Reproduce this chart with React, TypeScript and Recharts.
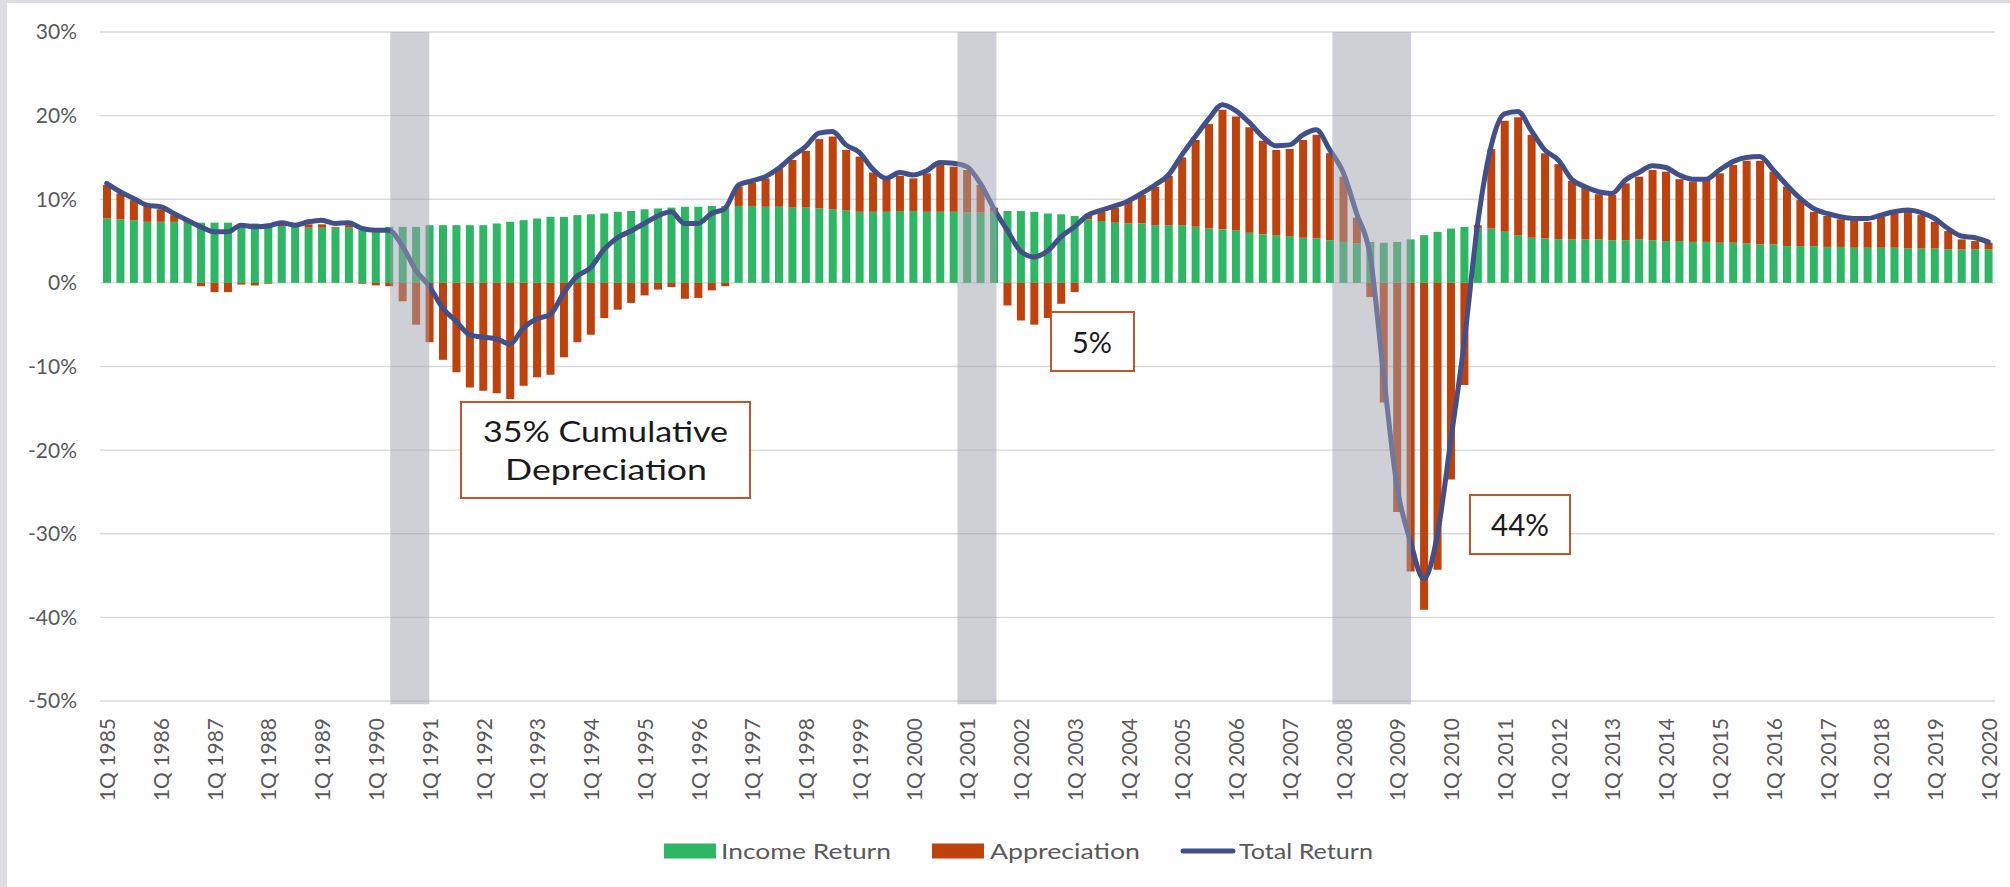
import React from "react";
import {
  ComposedChart,
  Bar,
  Line,
  XAxis,
  YAxis,
  CartesianGrid,
  ReferenceArea,
} from "recharts";

// quarterly returns, 1Q 1985 .. 1Q 2020 (141 quarters)
const yearTicks = [
  "1Q 1985", "1Q 1986", "1Q 1987", "1Q 1988", "1Q 1989", "1Q 1990",
  "1Q 1991", "1Q 1992", "1Q 1993", "1Q 1994", "1Q 1995", "1Q 1996",
  "1Q 1997", "1Q 1998", "1Q 1999", "1Q 2000", "1Q 2001", "1Q 2002",
  "1Q 2003", "1Q 2004", "1Q 2005", "1Q 2006", "1Q 2007", "1Q 2008",
  "1Q 2009", "1Q 2010", "1Q 2011", "1Q 2012", "1Q 2013", "1Q 2014",
  "1Q 2015", "1Q 2016", "1Q 2017", "1Q 2018", "1Q 2019", "1Q 2020",
];

const incomeReturn = [
  7.7, 7.6, 7.5, 7.3, 7.3, 7.3, 7.2, 7.2, 7.2, 7.2,
  7.1, 7.1, 7.1, 6.8, 6.7, 6.6, 6.6, 6.6, 6.6, 6.3,
  6.2, 6.7, 6.7, 6.7, 6.9, 6.9, 6.9, 6.9, 6.9, 7.1,
  7.3, 7.5, 7.7, 7.9, 7.9, 8.1, 8.2, 8.3, 8.5, 8.6,
  8.8, 8.9, 9.0, 9.1, 9.1, 9.2, 9.2, 9.2, 9.2, 9.1,
  9.1, 9.0, 9.0, 8.9, 8.8, 8.7, 8.5, 8.5, 8.5, 8.6,
  8.6, 8.5, 8.5, 8.5, 8.4, 8.4, 8.5, 8.6, 8.6, 8.5,
  8.3, 8.2, 8.0, 7.6, 7.4, 7.2, 7.1, 7.1, 6.9, 6.9,
  6.9, 6.7, 6.5, 6.4, 6.3, 6.0, 5.8, 5.7, 5.6, 5.4,
  5.3, 5.1, 4.9, 4.7, 4.9, 4.8, 4.9, 5.2, 5.7, 6.1,
  6.5, 6.7, 6.5, 6.5, 6.1, 5.7, 5.4, 5.3, 5.2, 5.2,
  5.2, 5.2, 5.1, 5.1, 5.2, 5.1, 5.0, 5.0, 4.9, 4.9,
  4.8, 4.8, 4.7, 4.6, 4.6, 4.4, 4.4, 4.4, 4.3, 4.3,
  4.2, 4.2, 4.2, 4.2, 4.1, 4.1, 4.1, 4.0, 4.0, 4.0,
  4.0,
];

const appreciation = [
  4.0, 3.1, 2.4, 2.0, 1.5, 0.8, 0.2, -0.4, -1.1, -1.1,
  -0.2, -0.3, -0.1, 0.2, 0.1, 0.4, 0.4, 0.1, 0.3, -0.1,
  -0.3, -0.4, -2.2, -5.0, -7.1, -9.2, -10.7, -12.5, -12.9, -13.2,
  -13.9, -12.3, -11.3, -11.0, -8.9, -7.1, -6.2, -4.2, -3.2, -2.4,
  -1.5, -0.8, -0.5, -1.9, -1.8, -0.9, -0.4, 2.3, 2.8, 3.4,
  4.6, 5.7, 6.8, 8.3, 8.7, 7.2, 6.6, 4.7, 3.8, 4.2,
  3.9, 4.6, 5.6, 5.4, 5.1, 3.3, 0.5, -2.7, -4.5, -5.0,
  -4.2, -2.5, -1.1, 0.4, 1.1, 1.8, 2.6, 3.4, 4.6, 5.9,
  8.1, 10.4, 12.5, 14.3, 13.6, 12.6, 11.2, 10.2, 10.4, 11.7,
  12.4, 10.4, 7.8, 3.1, -1.7, -14.3, -27.4, -34.5, -39.1, -34.3,
  -23.5, -12.2, 0.4, 9.5, 13.3, 14.1, 12.3, 10.2, 9.0, 7.0,
  6.2, 5.4, 5.4, 6.8, 7.5, 8.4, 8.3, 7.4, 7.2, 7.4,
  8.3, 9.3, 9.9, 10.0, 8.7, 7.1, 5.5, 4.1, 3.7, 3.3,
  3.3, 3.1, 3.7, 4.1, 4.4, 4.0, 3.2, 2.2, 1.2, 1.0,
  0.8,
];

const totalReturn = [
  11.9, 10.9, 10.1, 9.3, 9.1, 8.3, 7.5, 6.7, 6.1, 6.1,
  6.9, 6.7, 6.8, 7.2, 6.9, 7.3, 7.5, 7.1, 7.2, 6.5,
  6.3, 6.3, 4.4, 1.5, -0.4, -3.0, -4.6, -6.2, -6.5, -6.7,
  -7.3, -5.4, -4.3, -3.8, -1.2, 0.8, 1.8, 4.0, 5.4, 6.2,
  7.1, 8.0, 8.5, 7.1, 7.1, 8.3, 8.9, 11.7, 12.2, 12.7,
  13.7, 15.1, 16.3, 17.9, 18.1, 16.5, 15.6, 13.6, 12.5, 13.2,
  12.9, 13.4, 14.4, 14.3, 13.9, 11.9, 8.9, 6.3, 3.8, 3.1,
  3.8, 5.5, 6.7, 8.1, 8.7, 9.2, 9.8, 10.7, 11.7, 12.9,
  15.3, 17.5, 19.6, 21.3, 20.6, 19.2, 17.5, 16.4, 16.5, 17.7,
  18.3, 15.9, 13.2, 8.3, 3.3, -10.9, -24.3, -30.9, -35.4, -30.2,
  -18.9, -7.2, 7.0, 16.3, 20.2, 20.5, 18.2, 15.9, 14.7, 12.4,
  11.5, 10.9, 10.7, 12.3, 13.2, 14.0, 13.8, 12.9, 12.4, 12.4,
  13.5, 14.5, 15.0, 15.1, 13.5, 11.7, 10.1, 8.9, 8.3, 7.9,
  7.7, 7.7, 8.1, 8.5, 8.7, 8.4, 7.7, 6.5, 5.6, 5.4,
  4.9,
];

// recessions, in quarters counted from 1Q 1985
const recessions = [
  { from: 21.1, to: 24.0 },
  { from: 63.3, to: 66.2 },
  { from: 91.2, to: 97.05 },
];

const yTicks = [-50, -40, -30, -20, -10, 0, 10, 20, 30];

const GREEN = "#2DB664";
const ORANGE = "#BF410B";
const NAVY = "#415089";
const AXIS_TEXT = "#595959";
const BOX = "#C4552A";
const FONT = "Lato, 'Open Sans', sans-serif";

const data = incomeReturn.map((income, i) => ({
  t: i,
  income,
  appreciation: appreciation[i],
  total: totalReturn[i],
}));

function QuarterTick(props: any) {
  const { x, y, payload } = props;
  return (
    <text
      x={x}
      y={y}
      transform={`rotate(-90 ${x} ${y})`}
      textAnchor="end"
      dominantBaseline="central"
      fill={AXIS_TEXT}
      fontSize={21}
      fontFamily={FONT}
    >
      {yearTicks[Math.round(payload.value / 4)]}
    </text>
  );
}

function Overlay() {
  return (
    <svg
      width={2010}
      height={887}
      style={{ position: "absolute", left: 0, top: 0, pointerEvents: "none" }}
      fontFamily={FONT}
    >
      {/* annotation boxes */}
      <rect x={461} y={402} width={289} height={96} fill="#fff" stroke={BOX} strokeWidth={2} />
      <text x={483} y={442} fontSize={28} fill="#1a1a1a" textLength={245} lengthAdjust="spacingAndGlyphs">
        35% Cumulative
      </text>
      <text x={505} y={480} fontSize={28} fill="#1a1a1a" textLength={202} lengthAdjust="spacingAndGlyphs">
        Depreciation
      </text>

      <rect x={1051} y={312} width={83} height={59} fill="#fff" stroke={BOX} strokeWidth={2} />
      <text x={1072} y={353} fontSize={29} fill="#1a1a1a" textLength={40} lengthAdjust="spacingAndGlyphs">
        5%
      </text>

      <rect x={1470} y={495} width={100} height={59} fill="#fff" stroke={BOX} strokeWidth={2} />
      <text x={1491} y={536} fontSize={30} fill="#1a1a1a" textLength={58} lengthAdjust="spacingAndGlyphs">
        44%
      </text>

      {/* legend */}
      <rect x={664} y={843.5} width={52} height={15} fill={GREEN} />
      <text x={721} y={859} fontSize={22} fill={AXIS_TEXT} textLength={170} lengthAdjust="spacingAndGlyphs">
        Income Return
      </text>
      <rect x={932} y={843.5} width={52} height={15} fill={ORANGE} />
      <text x={990} y={859} fontSize={22} fill={AXIS_TEXT} textLength={150} lengthAdjust="spacingAndGlyphs">
        Appreciation
      </text>
      <line x1={1183} y1={851} x2={1233} y2={851} stroke={NAVY} strokeWidth={5} strokeLinecap="round" />
      <text x={1239} y={859} fontSize={22} fill={AXIS_TEXT} textLength={134} lengthAdjust="spacingAndGlyphs">
        Total Return
      </text>
    </svg>
  );
}

export default function App() {
  return (
    <div
      style={{
        position: "absolute",
        left: 0,
        top: 0,
        width: 2010,
        height: 887,
        background: "#fff",
        fontFamily: FONT,
      }}
    >
      <ComposedChart
        width={2010}
        height={887}
        data={data}
        stackOffset="sign"
        margin={{ top: 32, right: 15, bottom: 0, left: 0 }}
      >
        <CartesianGrid vertical={false} stroke="#d9d9d9" strokeWidth={1.3} />
        <XAxis
          dataKey="t"
          type="number"
          domain={[-0.5, 140.5]}
          allowDataOverflow
          ticks={yearTicks.map((_, k) => k * 4)}
          interval={0}
          height={186}
          axisLine={false}
          tickLine={false}
          tickSize={0}
          tickMargin={17}
          tick={<QuarterTick />}
        />
        <YAxis
          domain={[-50, 30]}
          ticks={yTicks}
          allowDataOverflow
          width={100}
          axisLine={false}
          tickLine={false}
          tickSize={0}
          tickMargin={23}
          tickFormatter={(v: number) => `${v}%`}
          tick={{ fill: AXIS_TEXT, fontSize: 21, fontFamily: FONT }}
        />
        <Bar dataKey="income" name="Income Return" stackId="r" fill={GREEN} barSize={8} isAnimationActive={false} />
        <Bar dataKey="appreciation" name="Appreciation" stackId="r" fill={ORANGE} barSize={8} isAnimationActive={false} />
        <Line
          dataKey="total"
          name="Total Return"
          type="monotone"
          stroke={NAVY}
          strokeWidth={5}
          strokeLinejoin="round"
          strokeLinecap="round"
          dot={false}
          activeDot={false}
          isAnimationActive={false}
        />
        {recessions.map((r, i) => (
          <ReferenceArea
            key={i}
            x1={r.from}
            x2={r.to}
            y1={-50.4}
            y2={30}
            fill="#9f9fad"
            fillOpacity={0.5}
            stroke="none"
            ifOverflow="visible"
            zIndex={450}
          />
        ))}
      </ComposedChart>
      <div style={{ position: "absolute", left: 0, top: 0, width: 2010, height: 3, background: "#dddde3" }} />
      <div style={{ position: "absolute", left: 0, top: 0, width: 7, height: 887, background: "#dddde3" }} />
      <Overlay />
    </div>
  );
}
